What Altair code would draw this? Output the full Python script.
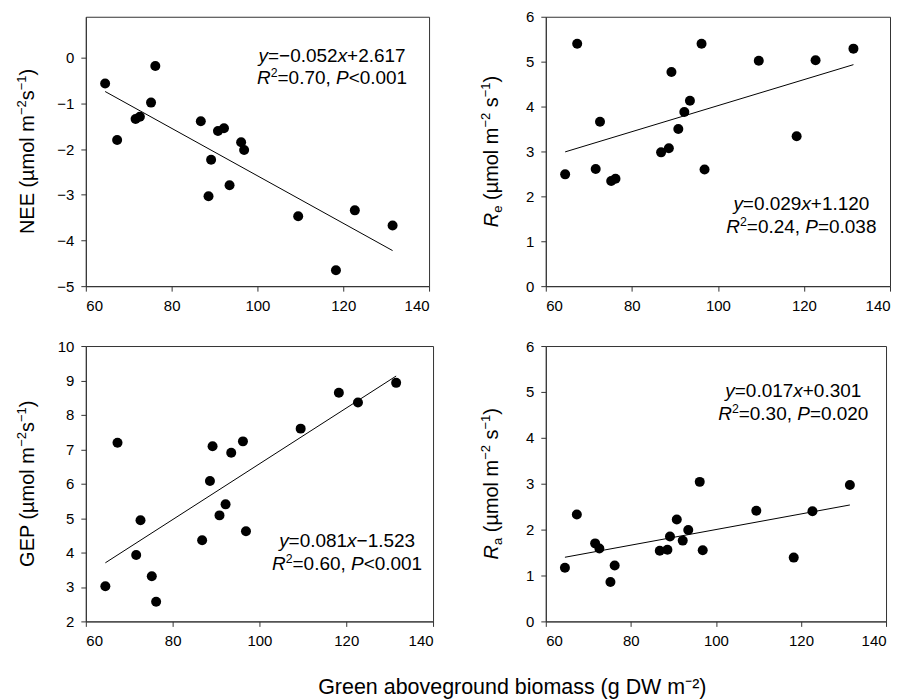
import altair as alt
import pandas as pd

# ---- data ----
biomass = [64.5, 67.3, 71.6, 72.6, 75.2, 76.2, 86.8, 88.6, 89.2, 90.8,
           92.2, 93.5, 96.2, 96.9, 109.5, 118.3, 122.7, 131.5]
nee = [-0.56, -1.80, -1.34, -1.29, -0.98, -0.18, -1.39, -3.03, -2.23, -1.60,
       -1.54, -2.79, -1.85, -2.02, -3.47, -4.65, -3.34, -3.67]
re_ = [2.49, 5.40, 2.61, 3.66, 2.34, 2.39, 2.98, 3.07, 4.77, 3.50,
       3.88, 4.13, 5.40, 2.60, 5.02, 3.34, 5.03, 5.29]
gep = [3.02, 7.19, 3.93, 4.94, 3.31, 2.57, 4.36, 6.08, 7.09, 5.08,
       5.40, 6.90, 7.23, 4.62, 7.60, 8.64, 8.36, 8.93]
ra = [1.17, 2.33, 1.70, 1.59, 0.86, 1.22, 1.54, 1.56, 1.85, 2.22,
      1.76, 1.99, 3.04, 1.55, 2.41, 1.39, 2.40, 2.97]

slopes = [-0.052, 0.029, 0.081, 0.017]
intercepts = [2.617, 1.120, -1.523, 0.301]

# text pieces: (text, style) with style N=normal, I=italic, SUP=superscript, SUB=subscript
eq_lines = [
    [("y", "I"), ("=\u22120.052", "N"), ("x", "I"), ("+2.617", "N")],
    [("y", "I"), ("=0.029", "N"), ("x", "I"), ("+1.120", "N")],
    [("y", "I"), ("=0.081", "N"), ("x", "I"), ("\u22121.523", "N")],
    [("y", "I"), ("=0.017", "N"), ("x", "I"), ("+0.301", "N")],
]
stat_lines = [
    [("R", "I"), ("2", "SUP"), ("=0.70, ", "N"), ("P", "I"), ("<0.001", "N")],
    [("R", "I"), ("2", "SUP"), ("=0.24, ", "N"), ("P", "I"), ("=0.038", "N")],
    [("R", "I"), ("2", "SUP"), ("=0.60, ", "N"), ("P", "I"), ("<0.001", "N")],
    [("R", "I"), ("2", "SUP"), ("=0.30, ", "N"), ("P", "I"), ("=0.020", "N")],
]
y_titles = [
    [("NEE (\u00b5mol m", "N"), ("\u22122", "SUP"), ("s", "N"), ("\u22121", "SUP"), (")", "N")],
    [("R", "I"), ("e", "SUB"), (" (\u00b5mol m", "N"), ("\u22122", "SUP"), (" s", "N"), ("\u22121", "SUP"), (")", "N")],
    [("GEP (\u00b5mol m", "N"), ("\u22122", "SUP"), ("s", "N"), ("\u22121", "SUP"), (")", "N")],
    [("R", "I"), ("a", "SUB"), (" (\u00b5mol m", "N"), ("\u22122", "SUP"), (" s", "N"), ("\u22121", "SUP"), (")", "N")],
]
y_domains = [[-5, 0.9], [0, 6], [2, 10], [0, 6]]
y_ticks = [[-5, -4, -3, -2, -1, 0], [0, 1, 2, 3, 4, 5, 6], [2, 3, 4, 5, 6, 7, 8, 9, 10], [0, 1, 2, 3, 4, 5, 6]]
x_ticks = [60, 80, 100, 120, 140]
ann_x = [117.4, 119.4, 120.2, 118.2]
ann_y1 = [-0.08, 1.69, 4.17, 4.89]
ann_y2 = [-0.58, 1.18, 3.48, 4.39]
x_title = "Green aboveground biomass (g DW m\u207b\u00b2)"

FONT = "Liberation Sans"
EQ_SIZE = 19
TITLE_SIZE = 20
widths = [344, 345, 348, 341]
heights = [270, 270, 276, 276]
title_baseline_x = [-52, -48, -52, -48]

# Arial / Liberation Sans advance widths (em)
ADV = {"y": 0.5, "x": 0.5, "R": 0.722, "P": 0.667, "N": 0.722, "E": 0.667, "G": 0.778,
       "=": 0.584, "+": 0.584, "\u2212": 0.584, "<": 0.584, ".": 0.278, ",": 0.278,
       " ": 0.278, "(": 0.333, ")": 0.333, "\u00b5": 0.576, "m": 0.833, "o": 0.556,
       "l": 0.222, "s": 0.5, "e": 0.556, "a": 0.556}


def seg_size(style, base):
    return base * 0.65 if style in ("SUP", "SUB") else base


def adv(s, size):
    return sum(ADV.get(c, 0.556) for c in s) * size


def rich_text(segments, base, x, y, angle=0):
    """Layers of text marks drawing a line of mixed-style text centred on (x, y)."""
    total = sum(adv(s, seg_size(st, base)) for s, st in segments)
    off = -total / 2
    layers = []
    for s, st in segments:
        size = seg_size(st, base)
        lead = len(s) - len(s.lstrip(" "))
        off += adv(" " * lead, size)
        s = s.lstrip(" ")
        dy = -base * 0.38 if st == "SUP" else (base * 0.22 if st == "SUB" else 0)
        d = pd.DataFrame({"t": [s]})
        props = dict(font=FONT, fontSize=size, align="left", baseline="alphabetic",
                     color="black", dx=off, dy=dy,
                     fontStyle="italic" if st == "I" else "normal")
        if angle:
            props["angle"] = angle
        layers.append(alt.Chart(d).mark_text(**props).encode(x=x, y=y, text="t:N"))
        off += adv(s, size)
    return layers


def panel(i, yvals):
    w, h = widths[i], heights[i]
    df = pd.DataFrame({"x": biomass, "y": yvals})
    xenc = alt.X("x:Q", scale=alt.Scale(domain=[60, 140], nice=False, zero=False),
                 axis=alt.Axis(values=x_ticks, tickCount=30, format="d", title=None,
                               labelOverlap=False))
    yenc = alt.Y("y:Q", scale=alt.Scale(domain=y_domains[i], nice=False, zero=False),
                 axis=alt.Axis(values=y_ticks[i], tickCount=30, format="d", title=None,
                               labelOverlap=False))
    pts = alt.Chart(df).mark_circle(size=100, color="black", opacity=1).encode(x=xenc, y=yenc)
    line = (
        alt.Chart(df)
        .transform_aggregate(xmin="min(x)", xmax="max(x)")
        .transform_fold(["xmin", "xmax"], as_=["k", "x"])
        .transform_calculate(y=f"{slopes[i]}*datum.x+({intercepts[i]})")
        .mark_line(color="black", strokeWidth=1)
        .encode(x=xenc, y=yenc)
    )
    ann = []
    for segs, yv in ((eq_lines[i], ann_y1[i]), (stat_lines[i], ann_y2[i])):
        ann += rich_text(segs, EQ_SIZE, alt.datum(ann_x[i], type="quantitative"),
                         alt.datum(yv, type="quantitative"))
    # rotated y-axis title (baseline sits toward the axis)
    ann += rich_text(y_titles[i], TITLE_SIZE, alt.value(title_baseline_x[i]), alt.value(h / 2), angle=270)
    return alt.layer(pts, line, *ann).properties(width=w, height=h)


panels = [panel(0, nee), panel(1, re_), panel(2, gep), panel(3, ra)]

chart = alt.concat(*panels, columns=2, spacing={"row": 24, "column": 45}).properties(
    padding={"left": 7, "top": 0, "right": 5, "bottom": 0},
    title=alt.TitleParams(text=x_title, orient="bottom", anchor="middle", font=FONT,
                          fontSize=21.5, fontWeight="normal", offset=28, dx=59, color="black"),
).configure_view(stroke="#333333", strokeWidth=1).configure_axis(
    grid=False, domainColor="#333333", tickColor="#333333", tickSize=5,
    labelPadding=7, labelFont=FONT, labelFontSize=15, labelColor="black",
    labelOverlap=False,
    titleFont=FONT, titleFontSize=20, titleFontWeight="normal", titleColor="black",
)

chart.save("out.html", embed_options={"renderer": "svg", "actions": False})
